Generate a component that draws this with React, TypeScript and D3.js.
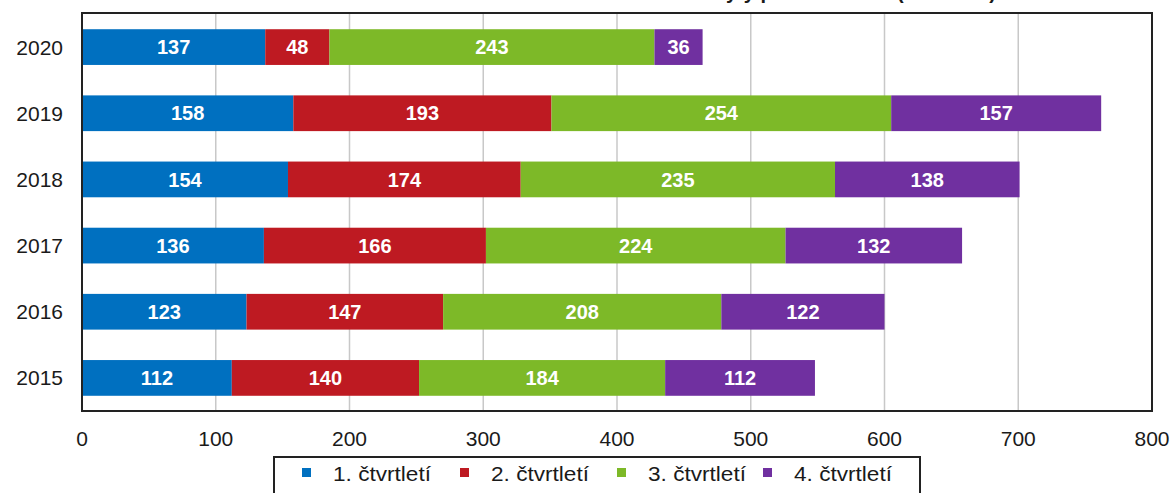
import React from "react";
import * as d3 from "d3";

const years = ["2020", "2019", "2018", "2017", "2016", "2015"];
const seriesNames = ["1. čtvrtletí", "2. čtvrtletí", "3. čtvrtletí", "4. čtvrtletí"];
const q1 = [137, 158, 154, 136, 123, 112];
const q2 = [48, 193, 174, 166, 147, 140];
const q3 = [243, 254, 235, 224, 208, 184];
const q4 = [36, 157, 138, 132, 122, 112];
const colors = ["#0070c0", "#be1a22", "#7db928", "#7030a0"];
const xTicks = [0, 100, 200, 300, 400, 500, 600, 700, 800];
const title = "Dokončené byty podle čtvrtletí (v tisících)";

const W = 1173;
const H = 493;
const left = 82;
const right = 1152;
const top = 13;
const bottom = 411;

export default function App() {
  const x = d3.scaleLinear().domain([0, 800]).range([left, right]);
  const y = d3.scaleBand().domain(years).range([top + 1, bottom]).paddingInner(0.46).paddingOuter(0.23);
  const seriesValues = [q1, q2, q3, q4];
  const rows = years.map((yr, i) => {
    const obj: any = { year: yr };
    seriesNames.forEach((s, j) => (obj[s] = seriesValues[j][i]));
    return obj;
  });
  const stack = d3.stack<any>().keys(seriesNames)(rows);
  const font = "'Liberation Sans', Arial, sans-serif";

  const legendX = [306, 464, 621, 767];

  return (
    <div style={{ position: "fixed", left: 0, top: 0 }}>
      <svg width={W} height={H} style={{ display: "block", fontFamily: font }}>
        <rect width={W} height={H} fill="#fff" />
        <text x={996} y={-1} textAnchor="end" fontSize={20} fontWeight="bold" fill="#1a1a1a">
          {title}
        </text>
        {xTicks.slice(1).map((t) => (
          <line key={t} x1={x(t)} x2={x(t)} y1={top} y2={bottom} stroke="#c8c8c8" strokeWidth={1.5} />
        ))}
        {stack.map((layer, j) => (
          <g key={j}>
            {layer.map((d, i) => {
              const x0 = x(d[0]);
              const x1 = x(d[1]);
              const yy = y(years[i])!;
              return (
                <g key={i}>
                  <rect x={x0} y={yy} width={x1 - x0} height={y.bandwidth()} fill={colors[j]} />
                  <text
                    x={(x0 + x1) / 2}
                    y={yy + y.bandwidth() / 2}
                    dy="0.36em"
                    textAnchor="middle"
                    fill="#fff"
                    fontWeight="bold"
                    fontSize={20}
                  >
                    {d[1] - d[0]}
                  </text>
                </g>
              );
            })}
          </g>
        ))}
        <rect x={left} y={top} width={right - left} height={bottom - top} fill="none" stroke="#222" strokeWidth={2} />
        {years.map((yr) => (
          <text key={yr} x={63} y={y(yr)! + y.bandwidth() / 2} dy="0.36em" textAnchor="end" fontSize={21} fill="#1a1a1a">
            {yr}
          </text>
        ))}
        {xTicks.map((t) => (
          <text key={t} x={x(t)} y={438} dy="0.36em" textAnchor="middle" fontSize={21} fill="#1a1a1a">
            {t}
          </text>
        ))}
        <rect x={274} y={457} width={646} height={50} fill="#fff" stroke="#222" strokeWidth={2} />
        {seriesNames.map((s, j) => (
          <g key={s}>
            <rect x={legendX[j] - 4} y={468} width={9} height={9} fill={colors[j]} />
            <text
              x={legendX[j] + 27}
              y={473}
              dy="0.36em"
              fontSize={21}
              textLength={98}
              lengthAdjust="spacingAndGlyphs"
              fill="#1a1a1a"
            >
              {s}
            </text>
          </g>
        ))}
      </svg>
    </div>
  );
}
